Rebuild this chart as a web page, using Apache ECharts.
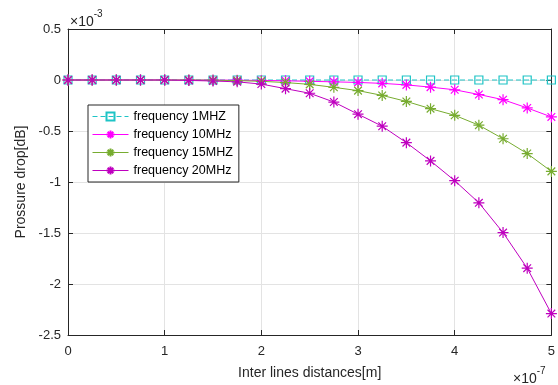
<!DOCTYPE html>
<html><head><meta charset="utf-8">
<script src="https://cdn.jsdelivr.net/npm/echarts@6/dist/echarts.min.js"></script>
<style>html,body{margin:0;padding:0;background:#fff}#c{width:558px;height:385px}</style>
</head><body><div id="c"></div>
<script>
// x in units of 1e-7 m, y in units of 1e-3 dB
var xValues = [0,0.25,0.5,0.75,1,1.25,1.5,1.75,2,2.25,2.5,2.75,3,3.25,3.5,3.75,4,4.25,4.5,4.75,5];
var f1MHz  = [0,0,0,0,0,0,0,0,0,0,0,0,0,0,0,0,0,0,0,0,0];
var f10MHz = [0,0,0,0,0,0,0,-0.002,-0.004,-0.008,-0.013,-0.018,-0.024,-0.033,-0.048,-0.07,-0.096,-0.142,-0.193,-0.274,-0.362];
var f15MHz = [0,0,0,0,0,0,-0.002,-0.006,-0.013,-0.025,-0.043,-0.072,-0.104,-0.151,-0.21,-0.281,-0.346,-0.443,-0.576,-0.721,-0.896];
var f20MHz = [0,0,0,0,0,-0.004,-0.01,-0.018,-0.04,-0.085,-0.13,-0.216,-0.335,-0.453,-0.614,-0.793,-0.987,-1.204,-1.496,-1.845,-2.29];
var seriesNames = ['frequency 1MHZ','frequency 10MHz','frequency 15MHZ','frequency 20MHz'];
var yTicks = [0.5,0,-0.5,-1,-1.5,-2,-2.5];

function pairs(ys){ return xValues.map(function(x,i){ return [x, ys[i]]; }); }
var star = 'path://M-1,0L1,0M0,-1L0,1M-0.7,-0.7L0.7,0.7M-0.7,0.7L0.7,-0.7';
var font = 'Liberation Sans';
var axisCol = '#262626';
var chart = echarts.init(document.getElementById('c'));
function mkSeries(name, ys, col, sym, dashed, size){
  return {
    type:'line', name:name, data:pairs(ys), symbol:sym, symbolSize:size,
    showAllSymbol:true, animation:false,
    lineStyle:{color:col, width:1, type: dashed?[5,3]:'solid'},
    itemStyle:{color: sym==='rect' ? 'rgba(255,255,255,0)' : col, borderColor:col, borderWidth:1.2},
    emphasis:{disabled:true}
  };
}
var baseAxis = {
  axisLine:{show:true, onZero:false, lineStyle:{color:axisCol, width:1}},
  axisTick:{show:true, inside:true, length:5, lineStyle:{color:axisCol}},
  splitLine:{show:false},
  axisLabel:{show:false}
};
chart.setOption({
  animation:false,
  grid:{left:68, right:4, top:29, bottom:48, containLabel:false},
  xAxis:[
    Object.assign({}, baseAxis, {type:'value', min:0, max:5, interval:1, position:'bottom',
      splitLine:{show:true, lineStyle:{color:'#E3E3E3', width:1}},
      axisLabel:{show:true, color:axisCol, fontFamily:font, fontSize:13, margin:10},
      name:'Inter lines distances[m]', nameLocation:'middle', nameGap:31,
      nameTextStyle:{color:axisCol, fontFamily:font, fontSize:14}}),
    Object.assign({}, baseAxis, {type:'value', min:0, max:5, interval:1, position:'top'})
  ],
  yAxis:[
    Object.assign({}, baseAxis, {type:'value', min:-2.5, max:0.5, interval:0.5, position:'left',
      splitLine:{show:true, lineStyle:{color:'#E3E3E3', width:1}},
      axisLabel:{show:true, color:axisCol, fontFamily:font, fontSize:13, margin:7,
        formatter:function(v){ return String(Math.round(v*10)/10); }},
      name:'Prossure drop[dB]', nameLocation:'middle', nameGap:39,
      nameTextStyle:{color:axisCol, fontFamily:font, fontSize:14}}),
    Object.assign({}, baseAxis, {type:'value', min:-2.5, max:0.5, interval:0.5, position:'right'})
  ],
  legend:{
    orient:'vertical', left:88, top:105, data:seriesNames,
    backgroundColor:'#fff', borderColor:'#262626', borderWidth:1,
    padding:[4,6,4,4], itemGap:3, itemWidth:36, itemHeight:10,
    lineStyle:{width:1},
    textStyle:{color:'#000', fontFamily:font, fontSize:12.5, lineHeight:15}, selectedMode:false
  },
  graphic:[
    {type:'text', left:70, top:9, style:{text:'{a|×10}{b|-3}', rich:{a:{fontFamily:font,fontSize:14,fill:axisCol, padding:[6,0,0,0]},b:{fontFamily:font,fontSize:10,fill:axisCol, verticalAlign:'top'}}}},
    {type:'text', left:513, top:366, style:{text:'{a|×10}{b|-7}', rich:{a:{fontFamily:font,fontSize:14,fill:axisCol, padding:[6,0,0,0]},b:{fontFamily:font,fontSize:10,fill:axisCol, verticalAlign:'top'}}}}
  ],
  series:[
    mkSeries(seriesNames[0], f1MHz, '#1EC4C6', 'rect', true, 8),
    mkSeries(seriesNames[1], f10MHz, '#FF00FF', star, false, 11),
    mkSeries(seriesNames[2], f15MHz, '#77AC30', star, false, 11),
    mkSeries(seriesNames[3], f20MHz, '#BF00BF', star, false, 11)
  ]
});
</script></body></html>
